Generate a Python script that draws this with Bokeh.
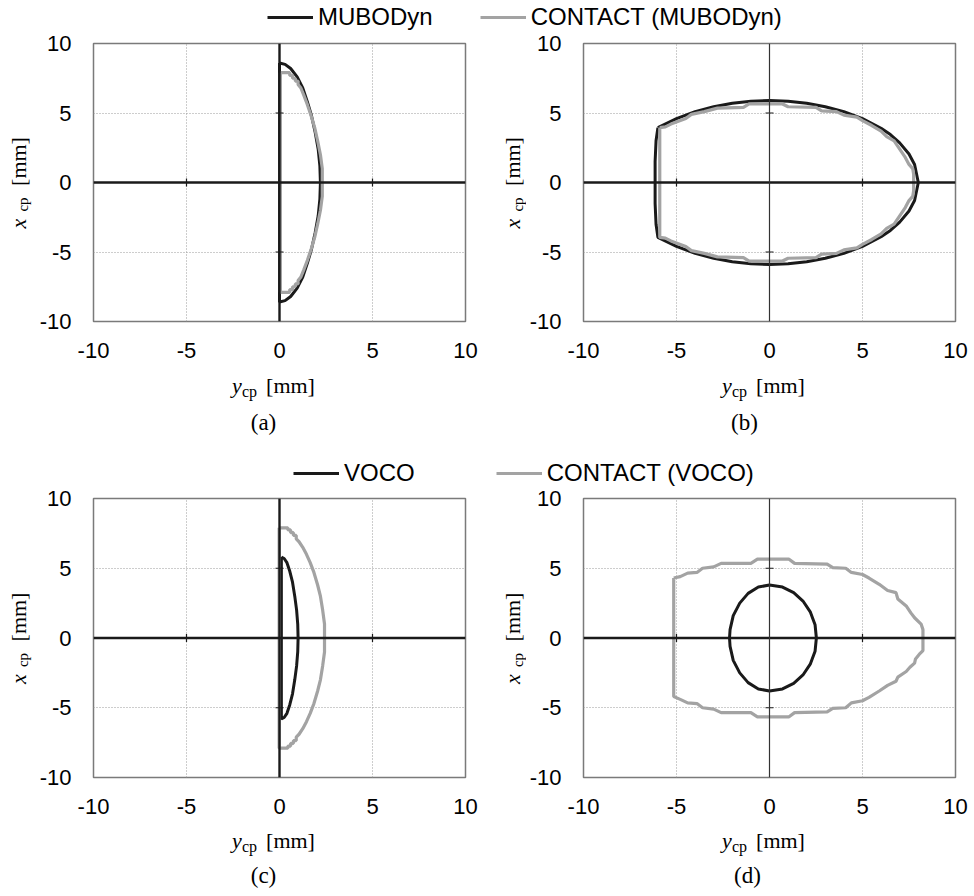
import math
from bokeh.plotting import figure
from bokeh.models import Span, Range1d, FixedTicker, Legend, LegendItem
from bokeh.core.properties import value
from bokeh.layouts import column, row
from bokeh.embed import file_html
from bokeh.resources import INLINE

# ---------------- data (y_cp horizontal, x_cp vertical, mm) ----------------
TICKS = [-10, -5, 0, 5, 10]
GRID_TICKS = [-5, 5]

# (a) MUBODyn
a_mub_y = [0.0, 0.3, 0.6, 0.95, 1.25, 1.5, 1.72, 1.92, 2.08, 2.17, 2.2, 2.17, 2.08, 1.92, 1.72, 1.5, 1.25, 0.95, 0.6, 0.3, 0.0, 0.0]
a_mub_x = [8.6, 8.5, 8.2, 7.6, 6.8, 5.8, 4.8, 3.6, 2.4, 1.2, 0.0, -1.2, -2.4, -3.6, -4.8, -5.8, -6.8, -7.6, -8.2, -8.5, -8.6, 8.6]
# (a) CONTACT (MUBODyn)
a_con_y = [0.05, 0.55, 0.55, 0.7, 0.7, 0.85, 0.85, 1.0, 1.0, 1.15, 1.3, 1.5, 1.7, 1.9, 2.05, 2.2, 2.3, 2.3, 2.2, 2.05, 1.9, 1.7, 1.5, 1.3, 1.15, 1.0, 1.0, 0.85, 0.85, 0.7, 0.7, 0.55, 0.55, 0.05, 0.05]
a_con_x = [7.9, 7.9, 7.7, 7.7, 7.5, 7.5, 7.3, 7.3, 7.05, 6.8, 6.3, 5.6, 4.8, 3.9, 3.0, 2.0, 1.0, -1.0, -2.0, -3.0, -3.9, -4.8, -5.6, -6.3, -6.8, -7.05, -7.3, -7.3, -7.5, -7.5, -7.7, -7.7, -7.9, -7.9, 7.9]

# (b) MUBODyn
b_mub_y = [-6.0, -5.0, -4.0, -3.0, -2.0, -1.0, 0.0, 1.0, 2.0, 3.0, 4.0, 5.0, 6.0, 6.5, 7.0, 7.5, 7.8, 8.0,
           7.8, 7.5, 7.0, 6.5, 6.0, 5.0, 4.0, 3.0, 2.0, 1.0, 0.0, -1.0, -2.0, -3.0, -4.0, -5.0, -6.0,
           -6.1, -6.15, -6.15, -6.15, -6.1, -6.0]
b_mub_x = [3.95, 4.6, 5.1, 5.45, 5.7, 5.85, 5.9, 5.85, 5.7, 5.45, 5.1, 4.6, 3.9, 3.45, 2.85, 2.05, 1.3, 0.0,
           -1.3, -2.05, -2.85, -3.45, -3.9, -4.6, -5.1, -5.45, -5.7, -5.85, -5.9, -5.85, -5.7, -5.45, -5.1, -4.6, -3.95,
           -3.0, -1.5, 0.0, 1.5, 3.0, 3.95]
# (b) CONTACT (MUBODyn)
b_con_y = [-5.9, -5.6, -5.3, -4.9, -4.5, -4.2, -3.5, -2.8, -1.4, -1.1, 0.7, 1.0, 2.5, 2.8, 3.6, 4.0, 4.7, 5.0, 5.5, 6.0, 6.3, 6.7, 6.9, 7.1, 7.3, 7.5, 7.7, 7.75,
           7.75, 7.7, 7.5, 7.3, 7.1, 6.9, 6.7, 6.3, 6.0, 5.5, 5.0, 4.7, 4.0, 3.6, 2.8, 2.5, 1.0, 0.7, -1.1, -1.4, -2.8, -3.5, -4.2, -4.5, -4.9, -5.3, -5.6, -5.9, -5.9]
b_con_x = [3.95, 4.0, 4.2, 4.4, 4.6, 4.9, 5.1, 5.35, 5.4, 5.65, 5.65, 5.45, 5.4, 5.15, 5.1, 4.85, 4.7, 4.45, 4.1, 3.7, 3.3, 3.0, 2.6, 2.2, 1.8, 1.3, 1.0, 0.6,
           -0.6, -1.0, -1.3, -1.8, -2.2, -2.6, -3.0, -3.3, -3.7, -4.1, -4.45, -4.7, -4.85, -5.1, -5.15, -5.4, -5.45, -5.65, -5.65, -5.4, -5.35, -5.1, -4.9, -4.6, -4.4, -4.2, -4.0, -3.95, 3.95]

# (c) VOCO
c_voco_y = [0.1, 0.25, 0.4, 0.55, 0.7, 0.82, 0.92, 0.98, 1.0, 0.98, 0.92, 0.82, 0.7, 0.55, 0.4, 0.25, 0.1, 0.1]
c_voco_x = [5.8, 5.7, 5.4, 4.8, 4.0, 3.0, 2.0, 1.0, 0.0, -1.0, -2.0, -3.0, -4.0, -4.8, -5.4, -5.7, -5.8, 5.8]
# (c) CONTACT (VOCO)
c_con_y = [-0.02, 0.45, 0.45, 0.6, 0.6, 0.75, 0.75, 0.9, 0.9, 1.05, 1.25, 1.45, 1.65, 1.85, 2.05, 2.2, 2.32, 2.42,
           2.42, 2.32, 2.2, 2.05, 1.85, 1.65, 1.45, 1.25, 1.05, 0.9, 0.9, 0.75, 0.75, 0.6, 0.6, 0.45, 0.45, -0.02, -0.02]
c_con_x = [7.9, 7.9, 7.75, 7.75, 7.55, 7.55, 7.35, 7.35, 7.1, 6.9, 6.5, 6.0, 5.4, 4.7, 3.8, 3.0, 2.0, 1.0,
           -1.0, -2.0, -3.0, -3.8, -4.7, -5.4, -6.0, -6.5, -6.9, -7.1, -7.35, -7.35, -7.55, -7.55, -7.75, -7.75, -7.9, -7.9, 7.9]

# (d) VOCO
d_voco_y = [0.0, 0.7, 1.3, 1.8, 2.2, 2.45, 2.52, 2.45, 2.2, 1.8, 1.3, 0.7, 0.0,
            -0.6, -1.15, -1.6, -1.95, -2.12, -2.15, -2.12, -1.95, -1.6, -1.15, -0.6, 0.0]
d_voco_x = [3.8, 3.65, 3.25, 2.65, 1.85, 0.95, 0.0, -0.95, -1.85, -2.65, -3.25, -3.65, -3.8,
            -3.65, -3.2, -2.5, -1.6, -0.6, 0.0, 0.6, 1.6, 2.5, 3.2, 3.65, 3.8]
# (d) CONTACT (VOCO)
d_con_y = [-5.15, -4.8, -4.4, -3.9, -3.6, -3.0, -2.6, -1.0, -0.65, 1.05, 1.35, 3.1, 3.4, 4.1, 4.4, 5.0, 5.35, 5.9, 6.35, 6.8, 6.9, 7.35, 7.6, 7.8, 8.15, 8.25,
           8.25, 8.1, 7.85, 7.8, 7.55, 7.35, 6.9, 6.8, 6.35, 5.9, 5.35, 5.0, 4.4, 4.1, 3.4, 3.1, 1.35, 1.05, -0.65, -1.0, -2.6, -3.0, -3.6, -3.9, -4.4, -4.8, -5.15, -5.15]
d_con_x = [4.3, 4.4, 4.65, 4.7, 5.0, 5.1, 5.35, 5.35, 5.65, 5.65, 5.35, 5.3, 5.05, 5.0, 4.7, 4.55, 4.3, 3.85, 3.4, 3.25, 2.8, 2.3, 1.8, 1.45, 1.0, 0.6,
           -0.9, -1.1, -1.5, -1.8, -2.1, -2.4, -2.8, -3.1, -3.4, -3.8, -4.25, -4.5, -4.65, -5.0, -5.05, -5.3, -5.35, -5.65, -5.65, -5.35, -5.35, -5.1, -5.0, -4.7, -4.65, -4.4, -4.2, 4.3]

BLACK = "#1a1a1a"
GRAY = "#a3a3a3"
SANS = "Liberation Sans"
SERIF = "Liberation Serif"
NAN = float("nan")

# shared horizontal geometry for both rows (px)
L1_W, P1_BL, FRAME_W, P1_BR = 36, 54, 372, 23      # left strip, panel a/c
L2_W, P2_BL, P2_BR = 38, 57, 22                    # second strip, panel b/d
C1 = L1_W + P1_BL + FRAME_W / 2                    # frame centre, left column
C2 = L1_W + P1_BL + FRAME_W + P1_BR + L2_W + P2_BL + FRAME_W / 2


def panel(by, bx, gy, gx, fh, bl, br, bt, bb, vwidth):
    p = figure(frame_width=FRAME_W, frame_height=fh,
               min_border_left=bl, min_border_right=br, min_border_top=bt, min_border_bottom=bb,
               x_range=Range1d(-10, 10), y_range=Range1d(-10, 10),
               toolbar_location=None, output_backend="svg")
    p.background_fill_color = "white"
    p.border_fill_color = "white"
    p.outline_line_color = "#7a7a7a"
    p.outline_line_width = 1.5
    for ax in (p.xaxis, p.yaxis):
        ax.ticker = FixedTicker(ticks=TICKS)
        ax.major_label_overrides = {t: str(t) for t in TICKS}
        ax.axis_line_color = None
        ax.major_tick_line_color = None
        ax.minor_tick_line_color = None
        ax.major_tick_out = 0
        ax.major_tick_in = 0
        ax.minor_tick_out = 0
        ax.major_label_text_font = SANS
        ax.major_label_text_font_size = "22px"
        ax.major_label_text_color = "black"
    p.yaxis.major_label_standoff = 22
    p.xaxis.major_label_standoff = 21
    for g in (p.xgrid, p.ygrid):
        g.ticker = FixedTicker(ticks=GRID_TICKS)
        g.grid_line_color = "#9a9a9a"
        g.grid_line_dash = "1 2"
        g.grid_line_width = 1

    p.line(by, bx, line_color=BLACK, line_width=3)
    p.line(gy, gx, line_color=GRAY, line_width=3.2)

    p.add_layout(Span(location=0, dimension="width", line_color=BLACK, line_width=2.4))
    p.add_layout(Span(location=0, dimension="height", line_color=BLACK if vwidth > 2 else "#333333",
                      line_width=vwidth))
    # small tick marks on the zero axes
    p.scatter([0] * len(GRID_TICKS), GRID_TICKS, marker="dash", size=8, line_color=BLACK, line_width=1.2)
    p.scatter(GRID_TICKS, [0] * len(GRID_TICKS), marker="dash", angle=math.pi / 2, size=8,
              line_color=BLACK, line_width=1.2)
    return p


def strip(w, h, y_range=None):
    f = figure(width=w, height=h, x_range=Range1d(0, w),
               y_range=y_range if y_range is not None else Range1d(0, h),
               toolbar_location=None, output_backend="svg",
               x_axis_location=None, y_axis_location=None, min_border=0)
    f.outline_line_color = None
    f.xgrid.visible = False
    f.ygrid.visible = False
    f.background_fill_color = "white"
    f.border_fill_color = "white"
    return f


def txt(f, xs, ys, texts, size, style="normal", angle=0.0):
    # every piece is anchored at its own centre
    f.text(x=xs, y=ys, text=texts, text_font=value(SERIF), text_font_size=value(size),
           text_font_style=style, angle=angle, text_align="center", text_baseline="middle",
           text_color="black")


def ylabel_strip(w, h, xc, px_per_unit):
    # rotated  x_cp [mm]; the strip's frame is aligned with the neighbouring panel frame,
    # so it shares the panel's vertical data range (-10..10), centre at 0
    f = strip(w, h, y_range=Range1d(-10, 10))
    rot = math.pi / 2
    txt(f, [xc], [-41.0 / px_per_unit], ["x"], "22px", style="italic", angle=rot)
    txt(f, [xc + 5], [-22.0 / px_per_unit], ["cp"], "15px", angle=rot)
    txt(f, [xc], [21.0 / px_per_unit], ["[mm]"], "22px", angle=rot)
    return f


def xlabels(f, centers, ymid, letters, letter_x, letter_mid):
    n = len(centers)
    txt(f, [c - 39.5 for c in centers], [ymid] * n, ["y"] * n, "22px", style="italic")
    txt(f, [c - 27 for c in centers], [ymid - 6] * n, ["cp"] * n, "16px")
    txt(f, [c + 14 for c in centers], [ymid] * n, ["[mm]"] * n, "22px")
    txt(f, letter_x, [letter_mid] * len(letters), letters, "23px")


def add_legend(f, items, x0, y0, spacing):
    leg_items = []
    for label, color in items:
        r = f.line(x=[NAN], y=[NAN], line_color=color, line_width=3)
        leg_items.append(LegendItem(label=label, renderers=[r]))
    lg = Legend(items=leg_items, orientation="horizontal", location=(x0, y0),
                padding=0, margin=0, spacing=spacing, glyph_width=46, glyph_height=24,
                label_standoff=5, label_height=24, label_text_font=SANS,
                label_text_font_size="24px", label_text_color="black",
                border_line_color=None, background_fill_alpha=0)
    f.add_layout(lg)


# ---- row 1 legend ----
leg1 = strip(974, 31)
add_legend(leg1, [("MUBODyn", BLACK), ("CONTACT (MUBODyn)", GRAY)], 267, 0, 47)

# ---- row 1 panels ----
la = ylabel_strip(L1_W, 340, 17.5, 13.9)
pa = panel(a_mub_y, a_mub_x, a_con_y, a_con_x, 278, P1_BL, P1_BR, 12, 50, 2.4)
lb = ylabel_strip(L2_W, 340, 24.0, 13.9)
pb = panel(b_mub_y, b_mub_x, b_con_y, b_con_x, 278, P2_BL, P2_BR, 12, 50, 1.2)

# ---- middle strip: row-1 axis titles, letters, row-2 legend ----
mid = strip(974, 116)
xlabels(mid, [C1, C2], 102.5, ["(a)", "(b)"], [263, 744], 65)
add_legend(mid, [("VOCO", BLACK), ("CONTACT (VOCO)", GRAY)], 293, 0, 81)

# ---- row 2 panels ----
lc = ylabel_strip(L1_W, 340, 17.5, 13.95)
pc = panel(c_voco_y, c_voco_x, c_con_y, c_con_x, 279, P1_BL, P1_BR, 11, 50, 2.4)
ld = ylabel_strip(L2_W, 340, 24.0, 13.95)
pd = panel(d_voco_y, d_voco_x, d_con_y, d_con_x, 279, P2_BL, P2_BR, 11, 50, 1.2)

bot = strip(974, 69)
xlabels(bot, [C1, C2], 56, ["(c)", "(d)"], [263, 747], 21)

layout = column(leg1, row(la, pa, lb, pb), mid, row(lc, pc, ld, pd), bot)
open("out.html", "w").write(file_html(layout, INLINE))
